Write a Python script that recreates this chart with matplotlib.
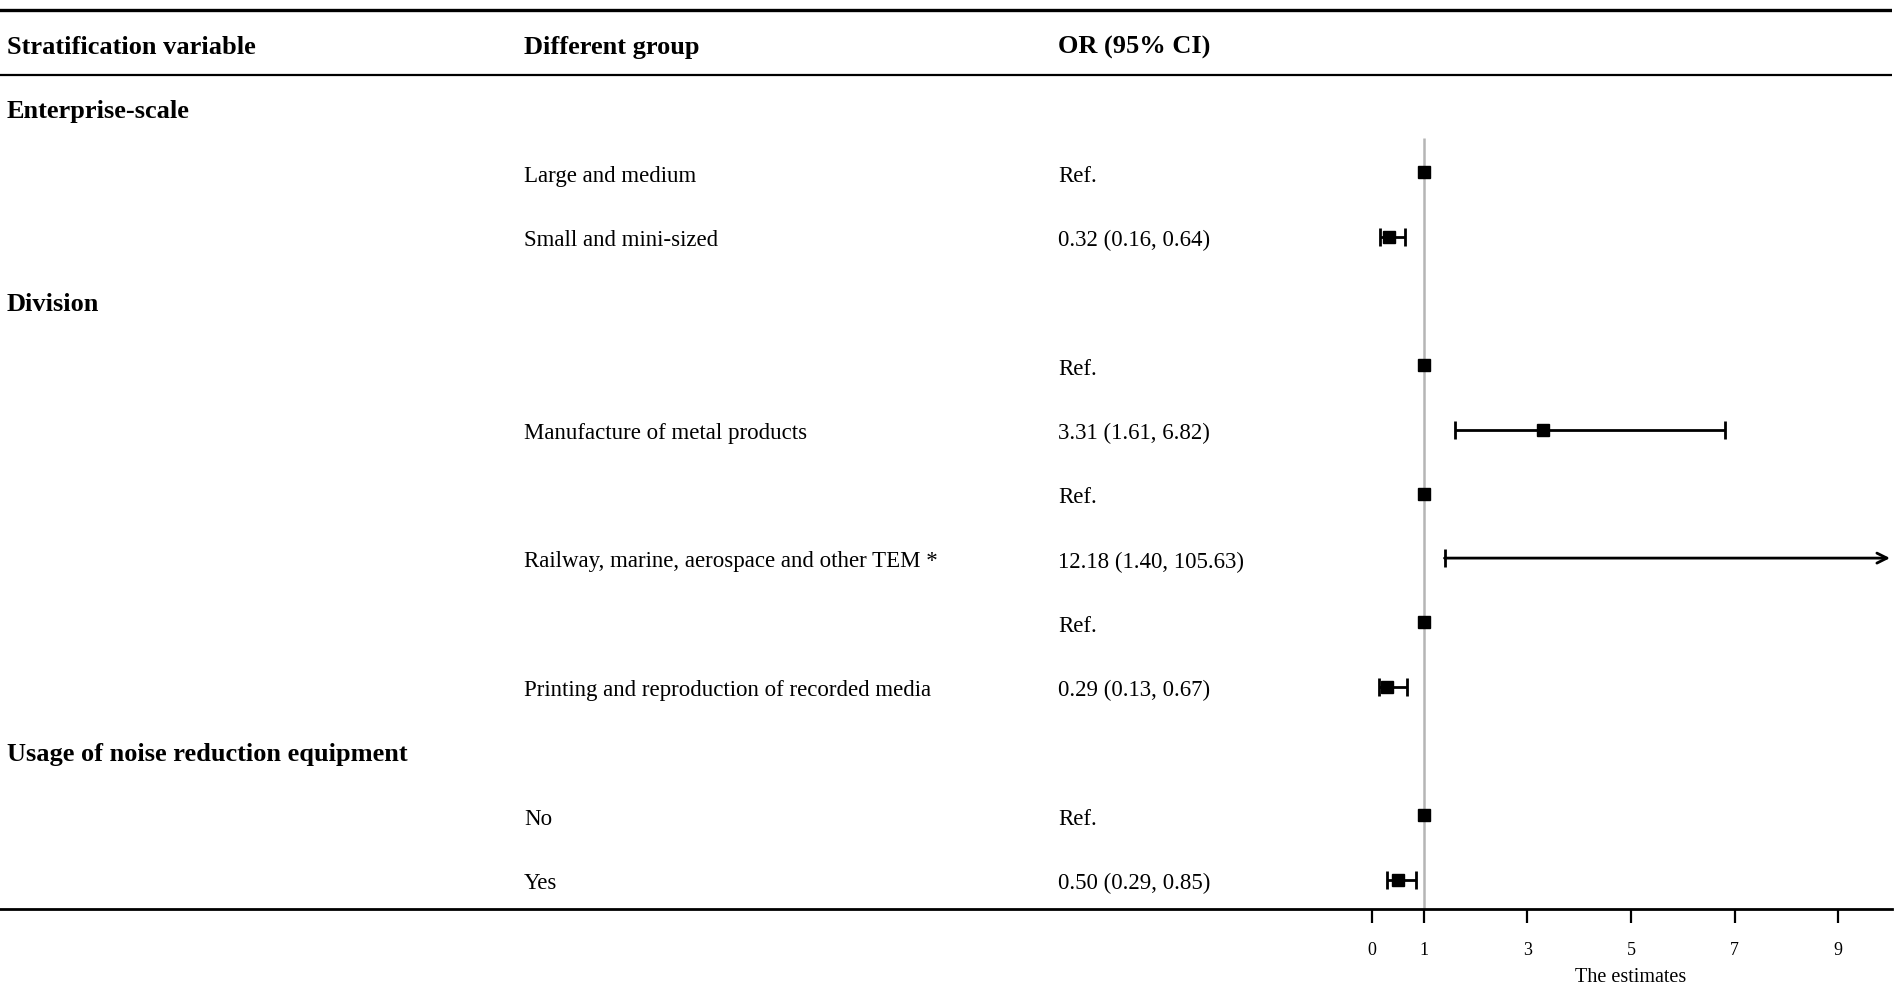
import matplotlib
matplotlib.use("Agg")
import matplotlib.pyplot as plt
import matplotlib.transforms as mtransforms

plt.rcParams['font.family'] = ['Liberation Serif', 'DejaVu Serif']

# table rows (row 0 is the header)
strat_labels = ["Enterprise-scale", "", "", "Division", "", "", "", "", "", "",
                "Usage of noise reduction equipment", "", ""]
group_labels = ["", "Large and medium", "Small and mini-sized", "", "",
                "Manufacture of metal products", "", "Railway, marine, aerospace and other TEM *",
                "", "Printing and reproduction of recorded media", "", "No", "Yes"]
est = [None, 1, 0.32, None, 1, 3.31, 1, 12.18, 1, 0.29, None, 1, 0.50]
lo = [None, None, 0.16, None, None, 1.61, None, 1.40, None, 0.13, None, None, 0.29]
hi = [None, None, 0.64, None, None, 6.82, None, 105.63, None, 0.67, None, None, 0.85]
headers = ["Stratification variable", "Different group", "OR (95% CI)"]
xticks = [0, 1, 3, 5, 7, 9]
x_clip = 10

W, H = 1902, 986
fig = plt.figure(figsize=(W / 100, H / 100), dpi=100)

# pixel layout of the reference
row0_px, row_step = 43.7, 64.3
bottom_px = 909
x0_px, unit_px = 1372, 51.8
right_px = 1892

ax = fig.add_axes([0, 1 - bottom_px / H, right_px / W, bottom_px / H])
ax.set_xlim(-x0_px / unit_px, (right_px - x0_px) / unit_px)
ax.set_ylim((bottom_px - row0_px) / row_step, -row0_px / row_step)

for s in ["top", "left", "right"]:
    ax.spines[s].set_visible(False)
ax.spines["bottom"].set_linewidth(2.0)
ax.set_yticks([])
ax.set_xticks(xticks)
ax.tick_params(axis="x", direction="out", length=10, width=1.6, pad=14, labelsize=13)

tr = ax.get_yaxis_transform()  # x in axes fraction, y in data rows
col_x = [7 / right_px, 524 / right_px, 1058 / right_px]
fs = 16.5
fs_bold = 19
dy = 0.06  # text sits a little below the row centre

# header
for cx, h in zip(col_x, headers):
    ax.text(cx, dy, h, transform=tr, fontsize=fs_bold, fontweight="bold", va="center", ha="left")
ax.axhline(-0.53, color="black", lw=2.4)
ax.axhline(0.49, color="black", lw=1.6)

# reference line at OR = 1
ax.vlines(1, 1.47, ax.get_ylim()[0], color="#b5b5b5", lw=1.8, zorder=1)

for i in range(len(strat_labels)):
    r = i + 1
    if strat_labels[i]:
        ax.text(col_x[0], r + dy, strat_labels[i], transform=tr, fontsize=fs_bold,
                fontweight="bold", va="center", ha="left")
    if group_labels[i]:
        ax.text(col_x[1], r + dy, group_labels[i], transform=tr, fontsize=fs, va="center", ha="left")
    if est[i] is None:
        continue
    if lo[i] is None:
        ax.text(col_x[2], r + dy, "Ref.", transform=tr, fontsize=fs, va="center", ha="left")
        ax.plot(est[i], r, marker="s", ms=8, color="black", zorder=3)
        continue
    ax.text(col_x[2], r + dy, f"{est[i]:.2f} ({lo[i]:.2f}, {hi[i]:.2f})", transform=tr,
            fontsize=fs, va="center", ha="left")
    if hi[i] > x_clip:
        ax.annotate("", xy=(x_clip, r), xytext=(lo[i], r),
                    arrowprops=dict(arrowstyle="->", color="black", lw=2.0,
                                    shrinkA=0, shrinkB=0, mutation_scale=18))
        ax.plot(lo[i], r, marker="|", ms=13, mew=2.0, color="black")
    else:
        ax.errorbar(est[i], r, xerr=[[est[i] - lo[i]], [hi[i] - est[i]]], fmt="s",
                    ms=8, color="black", ecolor="black", elinewidth=2.0,
                    capsize=6.5, capthick=2.0, zorder=3)

lab_tr = mtransforms.blended_transform_factory(ax.transData, fig.transFigure)
ax.text((xticks[1] + xticks[-1]) / 2, 1 - 977 / H, "The estimates", transform=lab_tr,
        fontsize=14.5, ha="center", va="center")

fig.savefig("out.png", dpi=100)
